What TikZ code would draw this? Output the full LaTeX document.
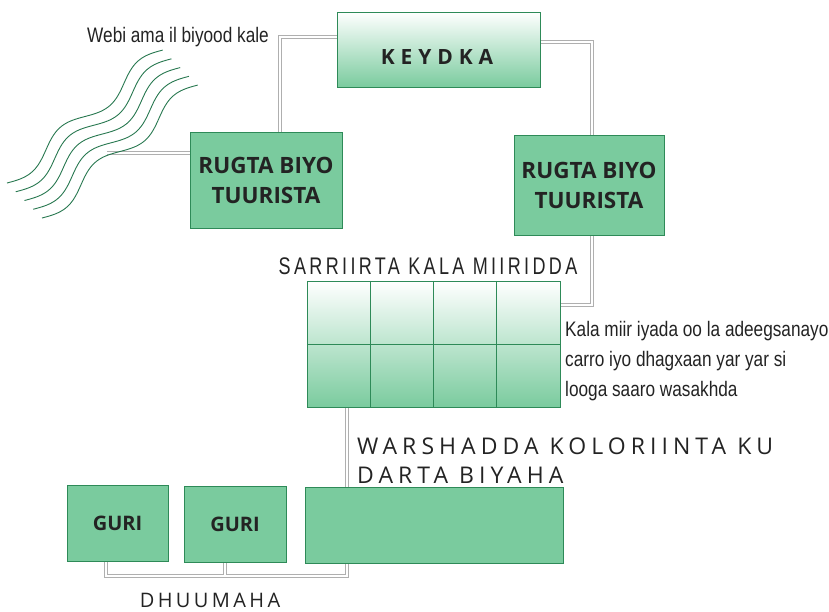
\documentclass[tikz,border=0pt]{standalone}
\usepackage{fontspec}
\usetikzlibrary{calc}
\setmainfont{Open Sans}
\newfontfamily\narrowfont[FakeStretch=0.82]{Liberation Sans}
\newfontfamily\condspaced[LetterSpace=14,FakeStretch=0.75]{Liberation Sans}
\newfontfamily\widespaced[LetterSpace=22]{Open Sans}
\newfontfamily\dhuspaced[LetterSpace=17]{Open Sans}
\newfontfamily\boldspaced[LetterSpace=28]{Open Sans}
\definecolor{boxgreen}{RGB}{122,203,158}
\definecolor{edgegreen}{RGB}{46,138,88}
\definecolor{wavegreen}{RGB}{40,120,80}
\definecolor{txt}{RGB}{35,35,35}
\definecolor{pipegray}{RGB}{175,175,175}
\newcommand\pipepaths[1]{%
  \draw[#1] ([yshift=12.5pt]k.west) -| ([xshift=14pt]r1.north);
  \draw[#1] (wv) -- (wv -| r1.west);
  \draw[#1] ([yshift=7.5pt]k.east) -| ([xshift=3pt]r2.north);
  \draw[#1] ([xshift=3pt]r2.south) |- ([yshift=39pt]t.east);
  \draw[#1] ([xshift=-86.5pt]t.south) -- (j) -| ([xshift=-11.5pt]g1.south);
  \draw[#1] ([xshift=-10pt]g2.south) |- (j);
}
\tikzset{
  greenbox/.style={draw=edgegreen, line width=0.8pt, fill=boxgreen, text=txt, align=center, inner sep=0pt},
  gradbox/.style={draw=edgegreen, line width=0.8pt, top color=white, bottom color=boxgreen, text=txt, inner sep=0pt},
  pipeout/.style={draw=pipegray, line width=4.4pt},
  pipein/.style={draw=white, line width=2.8pt},
  wave/.style={draw=wavegreen, line width=0.9pt},
  lbl/.style={text=txt, inner sep=0pt},
}
\begin{document}
\begin{tikzpicture}[x={(1pt,0)}, y={(0,-1pt)}]
\useasboundingbox (0,0) rectangle (829,611);
% nodes (anchors only; drawn later on top of the pipes)
\path
  (438.5,49.5) node[minimum width=203pt, minimum height=75pt] (k) {}
  (266,180) node[minimum width=152pt, minimum height=96pt] (r1) {}
  (589,185) node[minimum width=150pt, minimum height=100pt] (r2) {}
  (433.5,344) node[minimum width=253pt, minimum height=126pt] (t) {}
  (434,525) node[minimum width=258pt, minimum height=76pt] (f) {}
  (117.5,523) node[minimum width=101pt, minimum height=76pt] (g1) {}
  (235,524) node[minimum width=102pt, minimum height=76pt] (g2) {};
\coordinate (wv) at (107,153);
\coordinate (j) at (347,576);
% pipes
\pipepaths{pipeout}
\pipepaths{pipein}
% waves
\foreach \k in {0,...,4}
  \draw[wave] plot[domain=0:1, samples=100, smooth]
    ({7+8.75*\k+156*\x + 5*sin(720*\x)}, {183+8.75*\k-133*\x+6*sin(720*\x)});
% boxes
\node[gradbox, minimum width=203pt, minimum height=75pt] at (k) {};
\node[lbl, font=\boldspaced\bfseries\fontsize{21}{24}\selectfont] at (437,57) {KEYDKA};
\node[greenbox, minimum width=152pt, minimum height=96pt, font=\bfseries\fontsize{22.5}{30}\selectfont] at (r1) {RUGTA BIYO\\TUURISTA};
\node[greenbox, minimum width=150pt, minimum height=100pt, font=\bfseries\fontsize{22.5}{30}\selectfont] at (r2) {RUGTA BIYO\\TUURISTA};
\node[gradbox, minimum width=253pt, minimum height=126pt] at (t) {};
\foreach \i in {1,2,3}
  \draw[edgegreen, line width=0.8pt] ($(t.north west)!{\i/4}!(t.north east)$) -- ($(t.south west)!{\i/4}!(t.south east)$);
\draw[edgegreen, line width=0.8pt] (t.west) -- (t.east);
\node[greenbox, minimum width=258pt, minimum height=76pt] at (f) {};
\node[greenbox, minimum width=101pt, minimum height=76pt, font=\bfseries\fontsize{20}{24}\selectfont] at (g1) {GURI};
\node[greenbox, minimum width=102pt, minimum height=76pt, font=\bfseries\fontsize{20}{24}\selectfont] at (g2) {GURI};
% labels
\node[lbl, font=\narrowfont\fontsize{21}{30}\selectfont] (webl) at (178,37) {Webi ama il biyood kale};
\node[lbl, font=\condspaced\fontsize{24}{26}\selectfont] (sarl) at (428,266) {SARRIIRTA KALA MIIRIDDA};
\node[lbl, anchor=west, align=left, font=\narrowfont\fontsize{21}{30}\selectfont] (kall) at (565,361) {Kala miir iyada oo la adeegsanayo\\carro iyo dhagxaan yar yar si\\looga saaro wasakhda};
\node[lbl, anchor=west, align=left, font=\widespaced\fontsize{23}{29}\selectfont] (warl) at (357,461) {WARSHADDA KOLORIINTA KU\\DARTA BIYAHA};
\node[lbl, font=\dhuspaced\fontsize{20}{24}\selectfont] (dhul) at (210,600) {DHUUMAHA};
\end{tikzpicture}
\end{document}
